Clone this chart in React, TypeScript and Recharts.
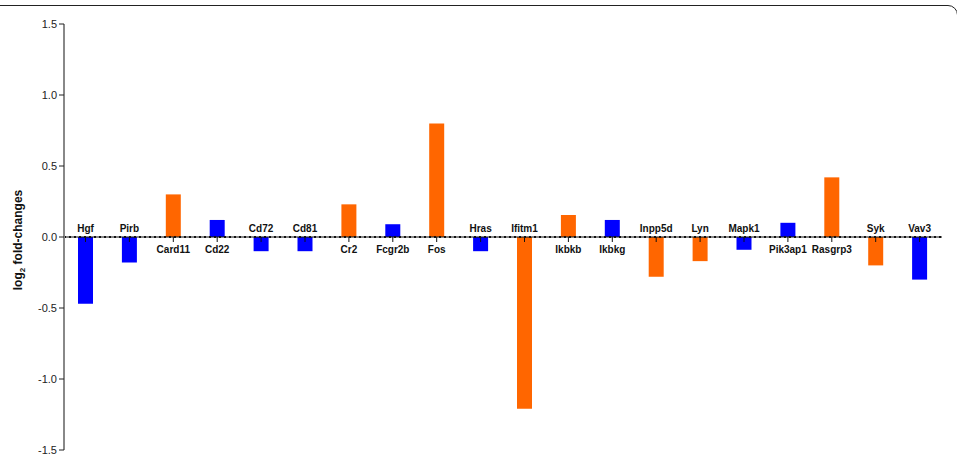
import React from 'react';
import { BarChart, Bar, XAxis, YAxis, Cell, LabelList, ReferenceLine } from 'recharts';

const genes = [
  'Hgf', 'Pirb', 'Card11', 'Cd22', 'Cd72', 'Cd81', 'Cr2', 'Fcgr2b', 'Fos', 'Hras',
  'Ifitm1', 'Ikbkb', 'Ikbkg', 'Inpp5d', 'Lyn', 'Mapk1', 'Pik3ap1', 'Rasgrp3', 'Syk', 'Vav3',
];

const foldChanges = [
  -0.47, -0.18, 0.3, 0.12, -0.1, -0.1, 0.23, 0.09, 0.8, -0.1,
  -1.21, 0.155, 0.12, -0.28, -0.17, -0.09, 0.1, 0.42, -0.2, -0.3,
];

// 'o' = orange group, 'b' = blue group
const groups = [
  'b', 'b', 'o', 'b', 'b', 'b', 'o', 'b', 'o', 'b',
  'o', 'o', 'b', 'o', 'o', 'b', 'b', 'o', 'o', 'b',
];

const yTicks = [-1.5, -1.0, -0.5, 0, 0.5, 1.0, 1.5];

const ORANGE = '#ff6600';
const BLUE = '#0000ff';
const FONT = '"Liberation Sans", Arial, Helvetica, sans-serif';

const data = genes.map((gene, i) => ({ gene, value: foldChanges[i], group: groups[i] }));

function GeneLabel(props: any) {
  const { x, y, width, height, index } = props;
  const value = foldChanges[index];
  const zero = y + height;
  const cx = x + width / 2;
  return (
    <g>
      <line x1={cx} x2={cx} y1={zero} y2={zero + 5} stroke="#111" strokeWidth={1} />
      <text
        x={cx}
        y={value < 0 ? zero - 5 : zero + 16}
        textAnchor="middle"
        fontFamily={FONT}
        fontSize={10}
        fontWeight="bold"
        fill="#111"
      >
        {genes[index]}
      </text>
    </g>
  );
}

function YLabel(props: any) {
  const vb = props.viewBox || {};
  const cy = vb.y + vb.height / 2 + 3;
  return (
    <text
      x={0}
      y={0}
      transform={`translate(22, ${cy}) rotate(-90)`}
      textAnchor="middle"
      fontFamily={FONT}
      fontSize={12}
      fontWeight="bold"
      fill="#111"
    >
      log
      <tspan fontSize={8} dy={3}>2</tspan>
      <tspan dy={-3}> fold-changes</tspan>
    </text>
  );
}

export default function App() {
  return (
    <div style={{ position: 'relative', width: 957, height: 458, overflow: 'hidden', background: '#fff' }}>
      <style>{'body{margin:0}'}</style>
      <div
        style={{
          position: 'absolute',
          left: -12,
          top: 5,
          width: 970,
          height: 520,
          border: '1.5px solid #222',
          borderRadius: 10,
          boxSizing: 'border-box',
        }}
      />
      <div style={{ position: 'absolute', left: 0, top: 0 }}>
        <BarChart
          width={957}
          height={458}
          data={data}
          margin={{ top: 24, right: 15, bottom: 8, left: 0 }}
        >
          <XAxis dataKey="gene" hide />
          <YAxis
            width={64}
            domain={[-1.5, 1.5]}
            ticks={yTicks}
            tickFormatter={(v: number) => v.toFixed(1)}
            axisLine={{ stroke: '#888', strokeWidth: 2 }}
            tickLine={{ stroke: '#222' }}
            tickSize={5}
            tick={{ fontSize: 11, fill: '#222', fontFamily: FONT }}
            label={<YLabel />}
          />
          <ReferenceLine y={0} stroke="#111" strokeWidth={1} />
          <ReferenceLine y={0} stroke="#111" strokeWidth={2} strokeDasharray="2 3" />
          <Bar dataKey="value" barSize={15} isAnimationActive={false}>
            {data.map((d) => (
              <Cell key={d.gene} fill={d.group === 'o' ? ORANGE : BLUE} />
            ))}
            <LabelList dataKey="value" content={<GeneLabel />} />
          </Bar>
        </BarChart>
      </div>
    </div>
  );
}
